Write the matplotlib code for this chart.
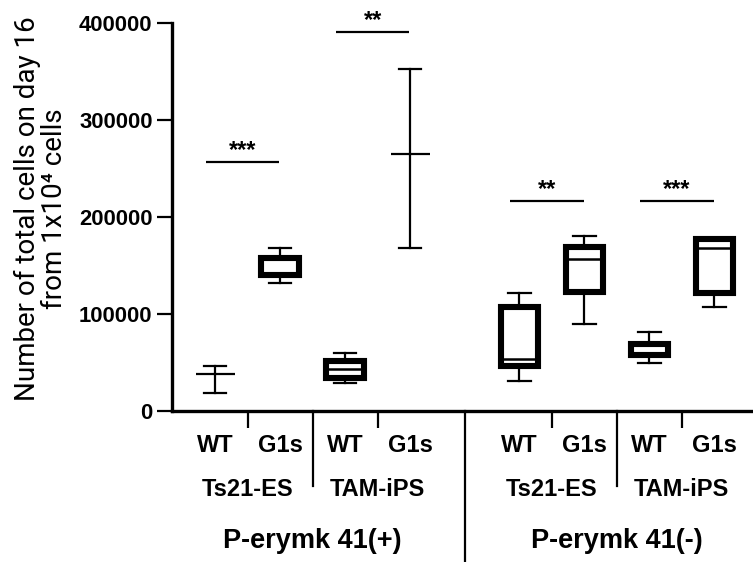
import matplotlib
matplotlib.use("Agg")
import matplotlib.pyplot as plt
from matplotlib.lines import Line2D
from matplotlib.transforms import blended_transform_factory

# ---- data -------------------------------------------------------------
genotypes = ["WT", "G1s", "WT", "G1s", "WT", "G1s", "WT", "G1s"]
cell_lines = ["Ts21-ES", "TAM-iPS", "Ts21-ES", "TAM-iPS"]
conditions = ["P-erymk 41(+)", "P-erymk 41(-)"]

# five-number summaries (min, q1, median, q3, max) per group
whisker_low = [19000, 132000, 28500, 168000, 31000, 90000, 50000, 107000]
quartile_1 = [38000, 140000, 34500, 265000, 46000, 122500, 58000, 122000]
medians = [38000, 141000, 43500, 265000, 54000, 157000, 60000, 168500]
quartile_3 = [38000, 158000, 52000, 265000, 107000, 169000, 69500, 177000]
whisker_high = [46000, 168000, 59500, 353000, 122000, 180000, 81000, 177000]
# groups with only three values are shown as range + median, without a box
has_box = [False, True, True, False, True, True, True, True]

# significance brackets: (left group, right group, height, label)
sig_left = [0, 2, 4, 6]
sig_right = [1, 3, 5, 7]
sig_height = [257000, 391000, 216000, 216000]
sig_label = ["***", "**", "**", "***"]

y_ticks = [0, 100000, 200000, 300000, 400000]

# ---- layout -----------------------------------------------------------
gap = 0.68
positions = [1, 2, 3, 4, 5 + gap, 6 + gap, 7 + gap, 8 + gap]

W, H = 753, 562
fig = plt.figure(figsize=(W / 100, H / 100), dpi=100)
ax = fig.add_axes([172 / W, (H - 411) / H, (W - 172) / W, (411 - 23) / H])

bold = dict(family=["Liberation Sans", "DejaVu Sans"], weight="bold")

stats_box, stats_range = [], []
pos_box, pos_range = [], []
for i in range(len(positions)):
    s = dict(whislo=whisker_low[i], q1=quartile_1[i], med=medians[i],
             q3=quartile_3[i], whishi=whisker_high[i], fliers=[])
    if has_box[i]:
        stats_box.append(s)
        pos_box.append(positions[i])
    else:
        stats_range.append(s)
        pos_range.append(positions[i])

ax.bxp(stats_box, positions=pos_box, widths=0.57, capwidths=0.35,
       showfliers=False, patch_artist=True, manage_ticks=False,
       boxprops=dict(facecolor="white", edgecolor="black", linewidth=4.4),
       whiskerprops=dict(color="black", linewidth=1.6),
       capprops=dict(color="black", linewidth=1.6),
       medianprops=dict(color="black", linewidth=1.8))

ax.bxp(stats_range, positions=pos_range, widths=0.6, capwidths=0.35,
       showfliers=False, showbox=False, manage_ticks=False,
       whiskerprops=dict(color="black", linewidth=1.6),
       capprops=dict(color="black", linewidth=1.6),
       medianprops=dict(color="black", linewidth=1.6))

# significance lines and stars
for a, b, h, lab in zip(sig_left, sig_right, sig_height, sig_label):
    x0, x1 = positions[a] - 0.14, positions[b] - 0.01
    ax.plot([x0, x1], [h, h], color="black", lw=1.6, solid_capstyle="butt",
            clip_on=False)
    ax.annotate(lab, xy=((x0 + x1) / 2, h), xytext=(0, 0),
                textcoords="offset points", ha="center", va="bottom",
                fontsize=17, **bold)

# axes
ax.set_xlim(1 - 43 / 65, 1 + (W - 215) / 65)
ax.set_ylim(0, 400000)
ax.set_yticks(y_ticks)
ax.set_yticklabels([str(v) for v in y_ticks], fontsize=15.8, **bold)
ax.tick_params(axis="y", length=11, width=1.6, pad=3, direction="out")
for side in ("top", "right"):
    ax.spines[side].set_visible(False)
for side in ("left", "bottom"):
    ax.spines[side].set_linewidth(2.4)
    ax.spines[side].set_capstyle("projecting")

# category ticks sit between the two genotypes of a pair
pair_centres = [(positions[2 * k] + positions[2 * k + 1]) / 2 for k in range(4)]
ax.set_xticks(pair_centres)
ax.set_xticklabels([])
ax.tick_params(axis="x", length=12.5, width=1.6, direction="out")

tr = blended_transform_factory(ax.transData, ax.transAxes)
px = 1 / 388  # one pixel in axes-fraction units (vertical)

# separators between cell lines and between conditions
sep_minor = [(positions[1] + positions[2]) / 2, (positions[5] + positions[6]) / 2]
for x in sep_minor:
    ax.add_line(Line2D([x, x], [0, -75 * px], transform=tr, color="black",
                       lw=1.6, clip_on=False))
sep_major = (positions[3] + positions[4]) / 2
ax.add_line(Line2D([sep_major, sep_major], [0, -160 * px], transform=tr,
                   color="black", lw=1.6, clip_on=False))

for x, g in zip(positions, genotypes):
    ax.text(x, -34 * px, g, transform=tr, ha="center", va="center",
            fontsize=17, **bold)
for x, c in zip(pair_centres, cell_lines):
    ax.text(x, -79 * px, c, transform=tr, ha="center", va="center",
            fontsize=17, **bold)
for k, cond in enumerate(conditions):
    x = (positions[4 * k] + positions[4 * k + 3]) / 2
    ax.text(x, -130 * px, cond, transform=tr, ha="center", va="center",
            fontsize=19.5, **bold)

fig.text(41 / W, 1 - 209 / H,
         "Number of total cells on day 16\nfrom 1x10\u2074 cells",
         rotation=90, ha="center", va="center", multialignment="center",
         fontsize=20, family=["Roboto", "DejaVu Sans"], weight="normal",
         color="black", linespacing=1.0)

fig.savefig("out.png", dpi=100)
